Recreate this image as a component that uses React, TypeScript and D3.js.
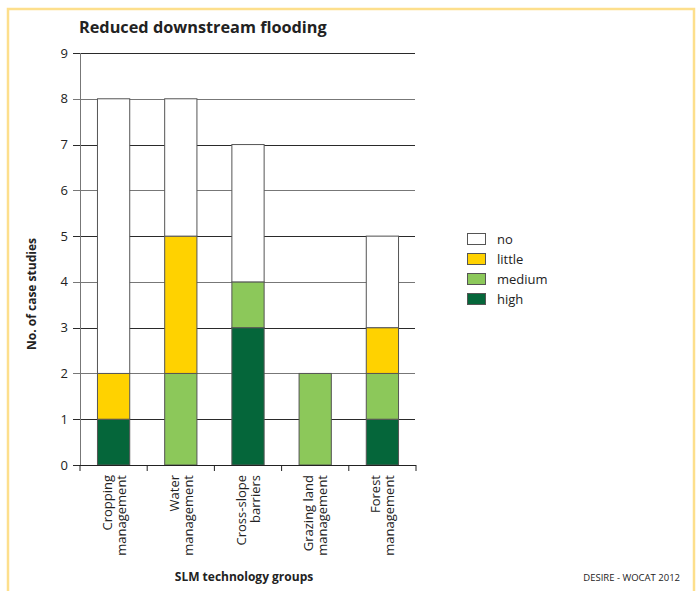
import React from "react";
import * as d3 from "d3";

const categories = [
  ["Cropping", "management"],
  ["Water", "management"],
  ["Cross-slope", "barriers"],
  ["Grazing land", "management"],
  ["Forest", "management"],
];
const levels = ["high", "medium", "little", "no"];
const high = [1, 0, 3, 0, 1];
const medium = [0, 2, 1, 2, 1];
const little = [1, 3, 0, 0, 1];
const no = [6, 3, 3, 0, 2];
const yTicks = [0, 1, 2, 3, 4, 5, 6, 7, 8, 9];
const legendOrder = ["no", "little", "medium", "high"];
const colors: Record<string, string> = {
  high: "#05663A",
  medium: "#8CC85A",
  little: "#FFD200",
  no: "#FFFFFF",
};

const W = 696;
const H = 591;
const font = "'Open Sans', 'Noto Sans', sans-serif";

export default function App() {
  const keys = categories.map((c) => c.join(" "));
  const x = d3.scaleBand<string>().domain(keys).range([80, 416]).paddingInner(0.52).paddingOuter(0.26);
  const y = d3.scaleLinear().domain([0, 9]).range([465, 53]);
  const rows = keys.map((k, i) => ({ key: k, high: high[i], medium: medium[i], little: little[i], no: no[i] }));
  const stack = d3.stack<any>().keys(levels)(rows);
  const step = x.step();
  const boundaries = d3.range(keys.length + 1).map((i) => 80 + i * step);

  return (
    <svg width={W} height={H} style={{ position: "absolute", left: 0, top: 0, background: "#fff" }}>
      {/* frame */}
      <path d={`M8,${H} L8,9 L694,9 L694,${H}`} fill="none" stroke="#FDDF8C" strokeWidth={2.5} />
      <text x={79} y={33} fontFamily={font} fontWeight="bold" fontSize={16.3} fill="#222">
        Reduced downstream flooding
      </text>
      {/* gridlines */}
      {yTicks.map((t) => (
        <g key={t}>
          <line x1={73} x2={415} y1={Math.round(y(t)) + 0.5} y2={Math.round(y(t)) + 0.5}
            stroke={t % 2 === 1 || t === 0 ? "#2a2a2a" : "#777"} strokeWidth={1} />
          <text x={68} y={y(t) + 4.5} textAnchor="end" fontFamily={font} fontSize={13} fill="#222">{t}</text>
        </g>
      ))}
      {/* y axis */}
      <line x1={80.5} x2={80.5} y1={53} y2={465} stroke="#777" strokeWidth={1} />
      {/* bars */}
      {stack.map((s) => (
        <g key={s.key}>
          {s.map((d, i) =>
            d[1] - d[0] > 0 ? (
              <rect key={i} x={x(keys[i])!} y={y(d[1])} width={x.bandwidth()} height={y(d[0]) - y(d[1])}
                fill={colors[s.key]} stroke="#555" strokeWidth={1} />
            ) : null
          )}
        </g>
      ))}
      {/* x axis */}
      <line x1={80} x2={416} y1={465.5} y2={465.5} stroke="#222" strokeWidth={1} />
      {boundaries.map((b, i) => (
        <line key={i} x1={b} x2={b} y1={465} y2={471} stroke="#222" strokeWidth={1} />
      ))}
      {categories.map((c, i) => {
        const cx = x(keys[i])! + x.bandwidth() / 2;
        return (
          <g key={i} transform={`translate(${cx},475) rotate(-90)`}>
            <text x={0} y={-2} textAnchor="end" fontFamily={font} fontSize={13} fill="#222">{c[0]}</text>
            <text x={0} y={12} textAnchor="end" fontFamily={font} fontSize={13} fill="#222">{c[1]}</text>
          </g>
        );
      })}
      <text transform="translate(36,294) rotate(-90)" textAnchor="middle" fontFamily={font} fontWeight="bold" fontSize={12} fill="#222">
        No. of case studies
      </text>
      <text x={244} y={581} textAnchor="middle" fontFamily={font} fontWeight="bold" fontSize={12} fill="#222">
        SLM technology groups
      </text>
      <text x={680} y={581} textAnchor="end" fontFamily={font} fontSize={9.5} fill="#222">
        DESIRE - WOCAT 2012
      </text>
      {/* legend */}
      {legendOrder.map((k, i) => (
        <g key={k} transform={`translate(467,${233 + i * 20})`}>
          <rect x={0.5} y={0.5} width={18} height={11} fill={colors[k]} stroke="#555" strokeWidth={1} />
          <text x={30} y={10.5} fontFamily={font} fontSize={13} fill="#222">{k}</text>
        </g>
      ))}
    </svg>
  );
}
